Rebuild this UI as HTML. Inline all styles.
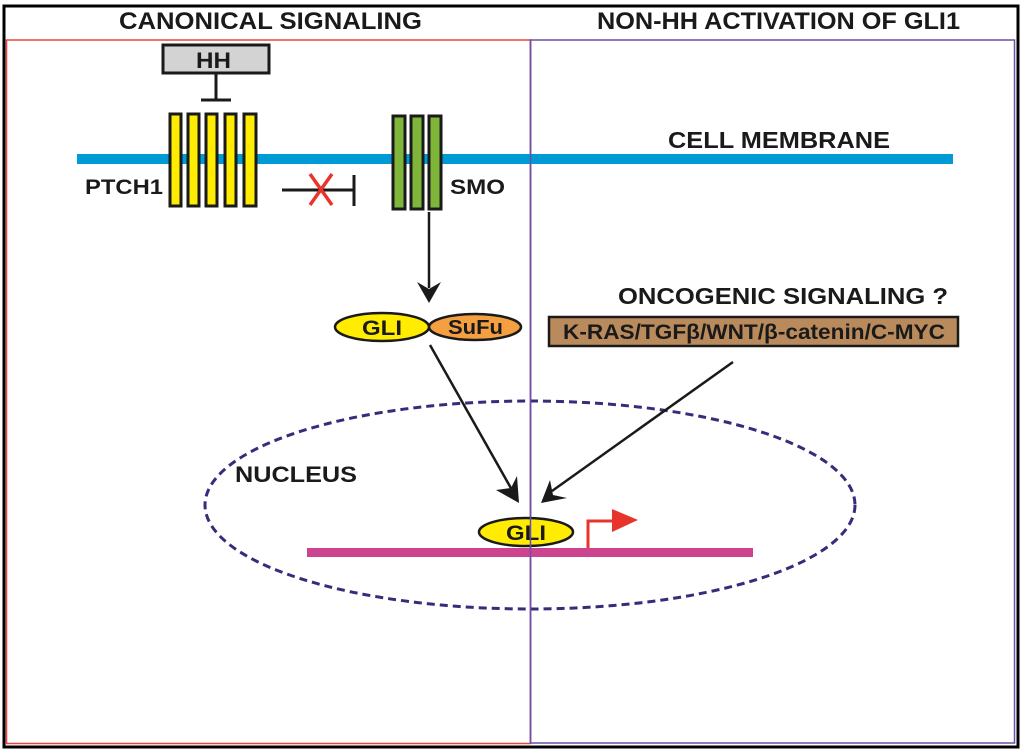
<!DOCTYPE html>
<html><head><meta charset="utf-8"><style>
html,body{margin:0;padding:0;background:#fff}
svg{display:block}
text{font-family:"Liberation Sans",sans-serif;font-weight:bold;fill:#1a1a1a}
</style></head><body>
<svg width="1024" height="752" viewBox="0 0 1024 752" xmlns="http://www.w3.org/2000/svg">
<rect x="4" y="6" width="1014" height="741" fill="#fff" stroke="#000" stroke-width="3"/>
<rect x="6.5" y="40" width="524" height="703.5" fill="none" stroke="#e8453c" stroke-width="1.5"/>
<rect x="530.5" y="40" width="484" height="703" fill="none" stroke="#6a4fa8" stroke-width="1.5"/>
<text x="119" y="29" font-size="24" textLength="303" lengthAdjust="spacingAndGlyphs">CANONICAL SIGNALING</text>
<text x="597" y="29" font-size="24" textLength="363" lengthAdjust="spacingAndGlyphs">NON-HH ACTIVATION OF GLI1</text>

<!-- membrane -->
<rect x="77" y="154" width="876" height="10" fill="#009bd5"/>
<text x="668" y="148" font-size="23" textLength="222" lengthAdjust="spacingAndGlyphs">CELL MEMBRANE</text>

<!-- HH -->
<rect x="163" y="45" width="106" height="28" fill="#d3d3d3" stroke="#1a1a1a" stroke-width="3"/>
<text x="196" y="68" font-size="22" textLength="35" lengthAdjust="spacingAndGlyphs">HH</text>
<line x1="216" y1="73" x2="216" y2="100" stroke="#1a1a1a" stroke-width="3"/>
<line x1="201" y1="100" x2="231" y2="100" stroke="#1a1a1a" stroke-width="3"/>

<!-- PTCH1 -->
<g fill="#ffec00" stroke="#1a1a1a" stroke-width="3">
<rect x="170" y="114" width="11" height="92"/>
<rect x="188" y="114" width="11" height="92"/>
<rect x="206" y="114" width="11" height="92"/>
<rect x="225" y="114" width="11" height="92"/>
<rect x="244" y="114" width="12" height="92"/>
</g>
<text x="85" y="194" font-size="21" textLength="78" lengthAdjust="spacingAndGlyphs">PTCH1</text>

<!-- inhibition X -->
<line x1="282" y1="190" x2="354" y2="190" stroke="#1a1a1a" stroke-width="3"/>
<line x1="354" y1="175" x2="354" y2="206" stroke="#1a1a1a" stroke-width="3"/>
<line x1="310" y1="174" x2="332" y2="205" stroke="#e8352c" stroke-width="3.5"/>
<line x1="332" y1="174" x2="310" y2="205" stroke="#e8352c" stroke-width="3.5"/>

<!-- SMO -->
<g fill="#7fb539" stroke="#1a1a1a" stroke-width="3">
<rect x="393" y="116" width="12" height="93"/>
<rect x="411" y="116" width="12" height="93"/>
<rect x="429" y="116" width="12" height="93"/>
</g>
<text x="450" y="194" font-size="21" textLength="55" lengthAdjust="spacingAndGlyphs">SMO</text>

<!-- arrow SMO -> GLI -->
<line x1="429" y1="212" x2="429" y2="288" stroke="#1a1a1a" stroke-width="2.5"/>
<polygon points="417,282 429,303 441,282 429,289" fill="#1a1a1a"/>

<!-- GLI/SuFu -->
<ellipse cx="475" cy="327" rx="46" ry="13" fill="#f4a040" stroke="#1a1a1a" stroke-width="2.5"/>
<ellipse cx="382" cy="327" rx="47" ry="14" fill="#ffec00" stroke="#1a1a1a" stroke-width="2.5"/>
<text x="362" y="335" font-size="21" textLength="40" lengthAdjust="spacingAndGlyphs">GLI</text>
<text x="448" y="334" font-size="20" textLength="55" lengthAdjust="spacingAndGlyphs">SuFu</text>

<!-- oncogenic -->
<text x="618" y="304" font-size="23" textLength="330" lengthAdjust="spacingAndGlyphs">ONCOGENIC SIGNALING ?</text>
<rect x="549" y="317" width="409" height="29" fill="#b98a5b" stroke="#1a1a1a" stroke-width="2.5"/>
<text x="563" y="339" font-size="21" textLength="382" lengthAdjust="spacingAndGlyphs">K-RAS/TGFβ/WNT/β-catenin/C-MYC</text>

<!-- nucleus -->
<ellipse cx="530" cy="505" rx="325" ry="104" fill="none" stroke="#3a2a7a" stroke-width="3" stroke-dasharray="8,5"/>
<text x="235" y="482" font-size="22" textLength="122" lengthAdjust="spacingAndGlyphs">NUCLEUS</text>

<!-- arrows to nuclear GLI -->
<line x1="430" y1="345" x2="512" y2="490" stroke="#1a1a1a" stroke-width="2.5"/>
<polygon points="496,490 519,503 517,476 511,488" fill="#1a1a1a"/>
<line x1="733" y1="362" x2="552" y2="491" stroke="#1a1a1a" stroke-width="2.5"/>
<polygon points="541,503 567,498 553,495 550,480" fill="#1a1a1a"/>

<!-- DNA -->
<rect x="307" y="548" width="446" height="9" fill="#cc4490"/>
<ellipse cx="526" cy="532" rx="47" ry="14" fill="#ffec00" stroke="#1a1a1a" stroke-width="2.5"/>
<text x="506" y="540" font-size="21" textLength="40" lengthAdjust="spacingAndGlyphs">GLI</text>

<!-- red transcription arrow -->
<polyline points="588,548 588,521 614,521" fill="none" stroke="#e8352c" stroke-width="3"/>
<polygon points="612,509 638,520 612,532" fill="#e8352c"/>

<line x1="530.5" y1="40" x2="530.5" y2="743" stroke="#6a4fa8" stroke-width="1.5"/>
</svg>
</body></html>
